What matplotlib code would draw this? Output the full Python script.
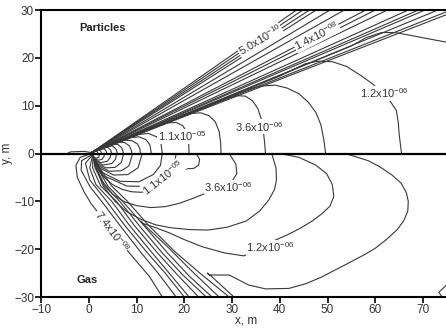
import matplotlib
matplotlib.use("Agg")
import matplotlib.pyplot as plt

plt.rcParams['font.family'] = ['Liberation Sans', 'DejaVu Sans']
plt.rcParams['mathtext.fontset'] = 'custom'
plt.rcParams['mathtext.rm'] = 'Liberation Sans'
plt.rcParams['mathtext.default'] = 'rm'

# source point of the plume (m)
src = (0.6, 0.2)

# --- Particles (upper half): closed contours ---
particles_closed = [
    [(0.6, 0.2), (1.0, 0.5), (1.5, 0.55), (1.8, 0.35), (1.9, 0)],
    [(0.6, 0.2), (1.2, 0.7), (2.0, 0.8), (2.5, 0.55), (2.7, 0)],
    [(0.6, 0.2), (1.6, 0.9), (2.7, 1.1), (3.3, 0.9), (3.65, 0.5), (3.75, 0)],
    [(0.6, 0.2), (2.0, 0.9), (3.3, 1.35), (4.1, 1.2), (4.6, 0.7), (4.8, 0)],
    [(0.6, 0.2), (2.5, 1.0), (4.0, 1.65), (5.0, 1.55), (5.7, 0.9), (6.0, 0)],
    [(0.6, 0.2), (3.0, 1.1), (4.9, 2.0), (6.1, 1.9), (6.9, 1.2), (7.3, 0)],
    [(0.6, 0.2), (3.5, 1.3), (6.0, 2.4), (7.5, 2.3), (8.5, 1.6), (8.9, 0.7), (9.0, 0)],
    [(0.6, 0.2), (4.5, 1.6), (7.2, 2.8), (9.0, 2.7), (10.2, 2.0), (10.7, 1.0), (10.8, 0)],
    [(0.6, 0.2), (5.5, 2.0), (8.5, 3.3), (10.5, 3.5), (12.0, 2.9), (12.8, 1.8),
     (13.1, 0)],
    [(0.6, 0.2), (7.0, 2.6), (10.5, 4.0), (12.5, 4.2), (14.2, 3.5), (15.1, 2.2),
     (15.4, 0)],
    [(0.6, 0.2), (10, 3.8), (14, 5.6), (16.5, 6.4), (18.3, 6.5), (19.7, 5.8),
     (20.5, 4.5), (20.9, 2.5), (21, 0)],
    [(0.6, 0.2), (14, 5.5), (19, 7.6), (21.5, 8.4), (23.5, 8.5), (25.2, 7.9),
     (26.5, 6.6), (27.3, 4.6), (27.6, 2.3), (27.7, 0)],
    [(0.6, 0.2), (20, 8.0), (26, 10.4), (29, 11.6), (31, 12.1), (32.8, 12.0),
     (34.3, 11.0), (35.4, 9.4), (36.1, 7.3), (36.5, 5), (36.8, 2.5), (37, 0)],
    [(0.6, 0.2), (30, 12.0), (33, 13.3), (36, 14.1), (39, 14.3), (41.5, 13.7),
     (44, 12.5), (46, 10.7), (47.6, 8.5), (48.6, 6), (49.2, 3), (49.6, 0)],
    [(0.6, 0.2), (40, 16.2), (45.4, 18.8), (48, 19.3), (51, 19.2), (54, 18.2),
     (57, 16.3), (59.5, 14.5), (61.5, 12.6), (63.2, 10.8), (64.4, 9.0),
     (64.8, 6.5), (65, 4), (65.3, 1.5), (65.5, 0)],
    [(0.6, 0.2), (55, 22.5), (58, 24.2), (61.3, 25.3), (64, 25.3), (66.9, 24.8),
     (70, 24.2), (74.8, 23.3)],
    [(-4.5, 0), (-3.8, 0.35), (-1.0, 0.45), (0.6, 0.2)],
]

# end points of the fan of particle contours (they all start at src)
particles_fan_ends = [
    (43.5, 30), (44.8, 30), (46.2, 30), (47.6, 30), (50.5, 30), (53.5, 30),
    (58, 30), (60, 30), (62.5, 30), (66.9, 30), (69, 30), (70.4, 30),
    (73.1, 30), (74.8, 29.6), (74.8, 29.0),
]

# --- Gas (lower half) ---
gas_closed = [
    [(0.8, -0.3), (1.0, -0.8), (1.6, -1.0), (2.1, -0.75), (2.3, 0)],
    [(0.8, -0.3), (1.1, -1.0), (2.0, -1.4), (2.8, -1.2), (3.2, -0.6), (3.3, 0)],
    [(0.8, -0.3), (1.2, -1.3), (2.5, -1.9), (3.9, -1.6), (4.5, -0.8), (4.6, 0)],
    [(0.8, -0.3), (1.3, -1.6), (3.0, -2.4), (4.8, -2.1), (5.6, -1.2), (5.8, 0)],
    [(0.8, -0.3), (1.5, -2.0), (3.6, -3.0), (5.5, -2.9), (6.8, -1.9), (7.3, 0)],
    [(0.8, -0.3), (1.7, -2.4), (4.3, -3.7), (6.8, -3.6), (8.4, -2.6), (9.2, 0)],
    [(0.8, -0.3), (2.0, -2.9), (5.2, -4.5), (8.2, -4.4), (10.3, -3.0), (11.2, 0)],
    [(0.8, -0.3), (2.5, -3.8), (6.5, -5.8), (10.5, -5.9), (13.5, -4.4),
     (15.0, -2.5), (15.4, 0)],
    [(0.8, -0.3), (3.0, -4.6), (8, -6.8), (12.5, -6.9), (16, -5.3), (17.8, -3.0),
     (18.3, 0)],
    [(0.8, -0.3), (1.5, -2.2), (3, -4.8), (5, -6.5), (7, -7.5), (9, -8),
     (11, -8.1), (12.5, -7.8), (14.5, -6.6), (16.5, -5), (18.5, -3.8),
     (20.5, -3.2), (22, -3.1), (23, -2.4), (23.2, -1.2), (22.5, 0)],
    [(0.8, -0.3), (1.5, -2.8), (3, -6), (5, -8.5), (7.5, -10.1), (10, -10.9),
     (13, -11.3), (16, -11.1), (19, -10.4), (22, -9.3), (25, -8.1), (28, -7.0),
     (30, -5.8), (31, -4.2), (30.8, -2.2), (29.4, 0)],
    [(0.8, -0.3), (1.5, -3), (3, -6.8), (5.5, -10), (8, -12.2), (11, -13.8),
     (14, -14.9), (17, -15.5), (21, -15.9), (25, -16), (29, -15.4), (33, -14.1),
     (35.8, -12), (37.7, -9.7), (38.9, -7.5), (39.3, -5.5), (39.2, -3), (38.3, 0)],
    [(40, 0), (44, -0.8), (47.5, -2.4), (49.8, -4.2), (51, -6.5), (51.3, -9),
     (50.5, -11), (48.8, -12.6), (46.8, -14.1), (44.5, -15.5), (42, -16.8),
     (37.5, -18.8), (32.5, -21.4), (28.5, -20.8), (23.8, -19.5), (20, -18),
     (16.9, -16.6), (14, -15.5), (11.3, -14.6), (11.0, -14.2), (11.6, -14.9),
     (16.5, -19.5), (21.5, -24.5), (27.3, -30)],
    [(53.7, 0), (56, -0.7), (58.5, -1.5), (61, -2.8), (63.5, -4.5), (65.4, -6.2),
     (66.5, -8.2), (66.9, -10), (66.8, -12), (66, -14), (64.5, -16),
     (62.3, -18), (60, -19.8), (58, -21), (54.4, -22.9), (51.5, -24.4),
     (48.8, -25.8), (45.5, -27.2), (41.9, -28.2), (37, -28.3), (33.5, -27.5),
     (29.4, -25.4), (25.2, -25.4), (24.8, -25.0), (25.6, -25.6), (28, -27.8),
     (30.4, -30)],
    [(74.8, -27.6), (73.3, -29.0), (74, -30)],
]

gas_fan = [
    [(0.6, 0), (-1.8, -0.8), (-2.7, -2.5), (-2.4, -5), (-1.0, -8), (0.5, -10.5),
     (4.8, -16), (8.5, -20.8), (12.7, -25.7), (15.4, -30)],
    [(0.7, -0.2), (-1.5, -1.5), (-1.6, -3.5), (0.3, -7), (2.7, -10), (6.5, -15),
     (11, -20.8), (14.5, -25), (18.3, -30)],
    [(0.8, -0.3), (-0.7, -2), (0.2, -5.5), (3.75, -10), (7.5, -15), (12.3, -20.8),
     (16, -25), (20, -30)],
    [(0.8, -0.3), (0.2, -3), (1.5, -6.5), (4.8, -10), (8.5, -15), (13.3, -20.8),
     (17, -25.2), (21, -30)],
    [(0.9, -0.4), (0.8, -3), (2.5, -6.8), (5.8, -10), (9.5, -15), (14.4, -20.8),
     (18.5, -25.3), (23, -30)],
    [(0.9, -0.4), (1.3, -3), (3.3, -6.8), (6.5, -10), (10.5, -15), (15.4, -20.8),
     (19.8, -25.5), (24.6, -30)],
    [(0.9, -0.4), (1.8, -3), (4.0, -6.8), (7.1, -10), (11.5, -15), (16.5, -20.8),
     (21, -25.6), (25.8, -30)],
    [(0.9, -0.4), (2.3, -3), (4.8, -6.8), (8.1, -10), (12.5, -15), (18, -20.5),
     (23.5, -25.2), (29.4, -30)],
]

# contour labels: text, x, y, rotation
contour_labels = [
    (r'5.0x10$^{-10}$', 35.8, 23.8, 31),
    (r'1.4x10$^{-08}$', 47.7, 24.6, 27),
    (r'1.2x10$^{-06}$', 61.9, 12.6, 0),
    (r'3.6x10$^{-06}$', 35.7, 5.6, 0),
    (r'1.1x10$^{-05}$', 19.5, 3.6, 0),
    (r'1.1x10$^{-05}$', 15.6, -5.0, 38),
    (r'3.6x10$^{-06}$', 29.2, -7.0, 0),
    (r'1.2x10$^{-06}$', 38.0, -19.6, 0),
    (r'7.4x10$^{-08}$', 4.8, -16.2, -53),
]

LINE = '#383838'

fig = plt.figure(figsize=(4.46, 3.35), dpi=100)
ax = fig.add_axes([0.092, 0.1134, 0.908, 0.8566])


def draw(pts):
    xs, ys = zip(*pts)
    ax.plot(xs, ys, color=LINE, lw=0.8, solid_joinstyle='round')


for c in particles_closed:
    draw(c)
for end in particles_fan_ends:
    draw([src, end])
for c in gas_closed:
    draw(c)
for c in gas_fan:
    draw(c)

ax.axhline(0, color='black', lw=1.6)

for txt, x, y, rot in contour_labels:
    ax.text(x, y, txt, fontsize=8, color='#333333', rotation=rot,
            ha='center', va='center', rotation_mode='anchor',
            bbox=dict(facecolor='white', edgecolor='none', pad=0.3))

ax.text(2.9, 26.3, 'Particles', fontsize=8, fontweight='bold',
        ha='center', va='center', color='#222222')
ax.text(-0.4, -26.5, 'Gas', fontsize=8, fontweight='bold',
        ha='center', va='center', color='#222222')

ax.set_xlim(-10, 74.8)
ax.set_ylim(-30, 30)
ax.set_xticks(range(-10, 71, 10))
ax.set_yticks(range(-30, 31, 10))
ax.set_xlabel('x, m', fontsize=8.5, color='#333333')
ax.set_ylabel('y, m', fontsize=8.5, color='#333333')
ax.xaxis.set_label_coords(0.506, -0.062)
ax.yaxis.set_label_coords(-0.07, 0.5)
ax.tick_params(direction='out', length=4, width=1.2, labelsize=8.5,
               labelcolor='#333333', pad=1)
for side in ['left', 'bottom', 'top']:
    ax.spines[side].set_linewidth(1.5)
ax.spines['right'].set_visible(False)

fig.savefig('out.png', dpi=100)
